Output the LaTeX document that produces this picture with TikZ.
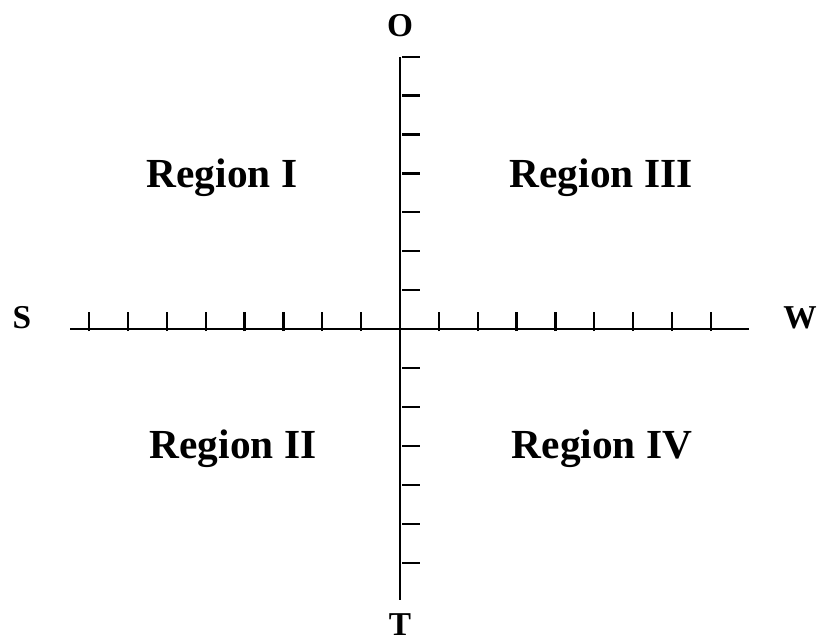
\documentclass[tikz,border=0pt]{standalone}
\usepackage{fontspec}
\setmainfont{Liberation Serif}
\usetikzlibrary{positioning}
\tikzset{
  axisline/.style = {line width=1.9pt, black},
  axtick/.style   = {line width=1.7pt, black},
  region/.style   = {font=\fontsize{31}{36}\selectfont\bfseries,
                     inner sep=0pt, anchor=base},
  dirlbl/.style   = {font=\fontsize{25}{28}\selectfont\bfseries,
                     inner sep=0pt}
}

\begin{document}
\begin{tikzpicture}[x=0.75pt, y=-0.75pt]

  \useasboundingbox (0,0) rectangle (820,643);

  % ── Axis end points ───────────────────────────────────────────────────────
  \coordinate (Org)   at (400,329);
  \coordinate (AxS)   at (70,329);
  \coordinate (AxW)   at (749,329);
  \coordinate (AxO)   at (400,57);
  \coordinate (AxT)   at (400,600);

  % ── Axes ──────────────────────────────────────────────────────────────────
  \draw[axisline] (AxS) -- (AxW);
  \draw[axisline] (AxO) -- (AxT);

  % ── Ticks on the horizontal axis ──────────────────────────────────────────
  \foreach \i in {1,...,8} {
    \draw[axtick] (400-\i*38.85,331) -- ++(0,-19);
    \draw[axtick] (400+\i*38.85,331) -- ++(0,-19);
  }

  % ── Ticks on the vertical axis ────────────────────────────────────────────
  \foreach \j in {1,...,7}
    \draw[axtick] (402,329-\j*38.9) -- ++(18,0);
  \foreach \j in {1,...,6}
    \draw[axtick] (402,329+\j*39) -- ++(18,0);

  % ── Direction labels ──────────────────────────────────────────────────────
  \node[dirlbl] (LblO) at (400,26) {O};
  \node[dirlbl] (LblT) at (400,625) {T};
  \node[dirlbl] (LblS) at (22,318) {S};
  \node[dirlbl] (LblW) at (800,318) {W};

  % ── Regions ───────────────────────────────────────────────────────────────
  \node[region] (RegI)   at (222,187) {Region I};
  \node[region] (RegIII) at (601,187) {Region III};
  \node[region] (RegII)  at (233,458) {Region II};
  \node[region] (RegIV)  at (602,458) {Region IV};

\end{tikzpicture}
\end{document}
